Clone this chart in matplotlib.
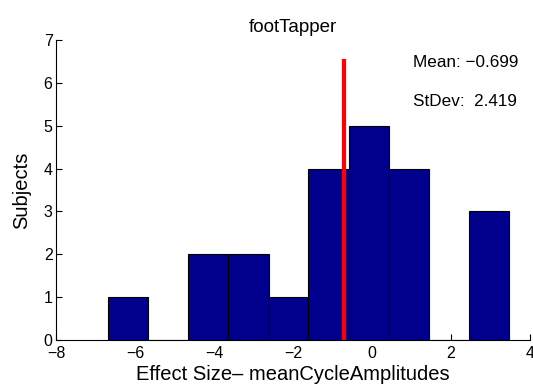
import matplotlib
matplotlib.use("Agg")
import matplotlib.pyplot as plt
import numpy as np

# histogram of effect sizes (bin edges and subject counts)
bin_edges = [-6.68, -5.66, -4.65, -3.64, -2.62, -1.61, -0.59, 0.42, 1.44, 2.45, 3.47]
counts = [1, 0, 2, 2, 1, 4, 5, 4, 0, 3]
mean_val = -0.699
std_val = 2.419
mean_line_top = 6.5
title = "footTapper"
xlabel = "Effect Size\u2013 meanCycleAmplitudes"
ylabel = "Subjects"

plt.rcParams["font.family"] = ["Liberation Sans", "DejaVu Sans"]

fig = plt.figure(figsize=(5.33, 3.89), dpi=100)
ax = fig.add_axes([0.1051, 0.126, 0.8893, 0.771])

edges = np.array(bin_edges)
ax.bar(edges[:-1], counts, width=np.diff(edges), align="edge",
       color="#00008C", edgecolor="black", linewidth=0.8, zorder=2)
ax.plot([mean_val, mean_val], [0, mean_line_top], color="red", lw=3, zorder=3)

ax.text(1.03, 6.37, f"Mean: {mean_val:.3f}".replace("-", "\u2212"),
        fontsize=12.3, va="baseline", ha="left")
ax.text(1.03, 5.46, f"StDev:  {std_val:.3f}", fontsize=12.3,
        va="baseline", ha="left")

ax.set_xlim(-8, 4)
ax.set_ylim(0, 7)
ax.set_xticks(np.arange(-8, 5, 2))
ax.set_yticks(np.arange(0, 8, 1))
ax.tick_params(direction="in", labelsize=11.5, length=4, width=0.8)
ax.tick_params(axis="x", pad=4.3)
ax.tick_params(axis="y", pad=2.5)
ax.spines["top"].set_visible(False)
ax.spines["right"].set_visible(False)
ax.set_title(title, fontsize=13.5)
ax.set_xlabel(xlabel, fontsize=14.5, labelpad=3)
ax.set_ylabel(ylabel, fontsize=14.5, labelpad=9)

fig.savefig("out.png", dpi=100)
